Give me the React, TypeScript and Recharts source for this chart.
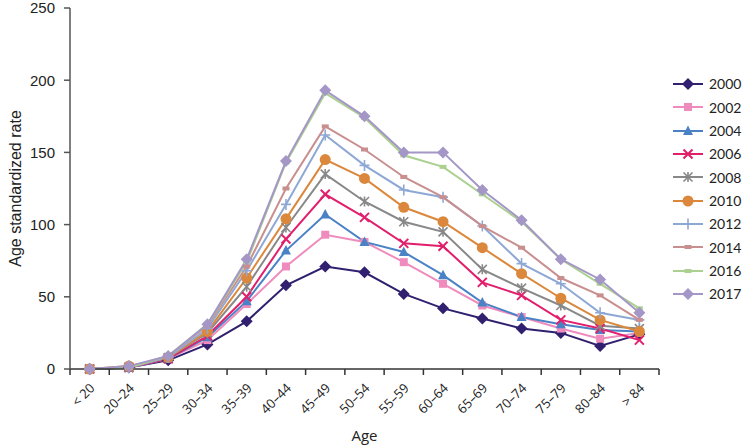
import React from "react";
import { LineChart, Line, XAxis, YAxis } from "recharts";

const ageGroups = [
  "< 20", "20–24", "25–29", "30–34", "35–39", "40–44", "45–49", "50–54",
  "55–59", "60–64", "65–69", "70–74", "75–79", "80–84", "> 84",
];

const years = ["2000", "2002", "2004", "2006", "2008", "2010", "2012", "2014", "2016", "2017"];

const rate2000 = [0, 1, 6, 17, 33, 58, 71, 67, 52, 42, 35, 28, 25, 16, 24];
const rate2002 = [0, 1, 7, 20, 45, 71, 93, 88, 74, 59, 44, 36, 28, 21, 25];
const rate2004 = [0, 1, 7, 22, 47, 82, 107, 88, 81, 65, 46, 36, 31, 27, 26];
const rate2006 = [0, 1, 7, 23, 50, 90, 121, 105, 87, 85, 60, 51, 34, 28, 20];
const rate2008 = [0, 1, 8, 25, 57, 98, 135, 116, 102, 95, 69, 56, 44, 30, 28];
const rate2010 = [0, 2, 8, 26, 63, 104, 145, 132, 112, 102, 84, 66, 49, 34, 26];
const rate2012 = [0, 1, 8, 28, 68, 114, 162, 141, 124, 119, 99, 73, 59, 39, 34];
const rate2014 = [0, 1, 9, 30, 71, 125, 168, 152, 133, 119, 99, 84, 63, 51, 34];
const rate2016 = [0, 1, 9, 31, 74, 143, 191, 174, 148, 140, 121, 102, 76, 59, 42];
const rate2017 = [0, 2, 9, 31, 76, 144, 193, 175, 150, 150, 124, 103, 76, 62, 39];

const seriesValues = [
  rate2000, rate2002, rate2004, rate2006, rate2008,
  rate2010, rate2012, rate2014, rate2016, rate2017,
];

const colors = [
  "#30206f", "#ef8cbd", "#4a82c5", "#e21f6c", "#888888",
  "#db883c", "#8ea8d5", "#c98e8e", "#abd08f", "#a496c7",
];
const markers = [
  "diamond", "square", "triangle", "cross", "asterisk",
  "circle", "plus", "dash", "dash", "diamond",
];

const yTicks = [0, 50, 100, 150, 200, 250];

const data = ageGroups.map((age, i) => {
  const row: Record<string, string | number> = { age };
  years.forEach((y, j) => {
    row[y] = seriesValues[j][i];
  });
  return row;
});

const PLOT_W = 589;
const BAND = PLOT_W / ageGroups.length;

function Marker({ kind, cx, cy, color }: { kind: string; cx: number; cy: number; color: string }) {
  switch (kind) {
    case "diamond":
      return <path d={`M${cx},${cy - 6}L${cx + 6},${cy}L${cx},${cy + 6}L${cx - 6},${cy}Z`} fill={color} />;
    case "square":
      return <rect x={cx - 4} y={cy - 4} width={8} height={8} fill={color} />;
    case "triangle":
      return <path d={`M${cx},${cy - 5.5}L${cx + 5},${cy + 4}L${cx - 5},${cy + 4}Z`} fill={color} />;
    case "cross":
      return (
        <path
          d={`M${cx - 4.5},${cy - 4.5}L${cx + 4.5},${cy + 4.5}M${cx - 4.5},${cy + 4.5}L${cx + 4.5},${cy - 4.5}`}
          stroke={color}
          strokeWidth={2}
        />
      );
    case "asterisk":
      return (
        <path
          d={`M${cx - 4.5},${cy - 4.5}L${cx + 4.5},${cy + 4.5}M${cx - 4.5},${cy + 4.5}L${cx + 4.5},${cy - 4.5}M${cx},${cy - 5}L${cx},${cy + 5}`}
          stroke={color}
          strokeWidth={1.6}
        />
      );
    case "circle":
      return <circle cx={cx} cy={cy} r={5.5} fill={color} />;
    case "plus":
      return (
        <path
          d={`M${cx - 5},${cy}L${cx + 5},${cy}M${cx},${cy - 5.5}L${cx},${cy + 5.5}`}
          stroke={color}
          strokeWidth={1.6}
        />
      );
    case "dash":
      return <rect x={cx - 3.5} y={cy - 2} width={7} height={4} fill={color} />;
    default:
      return null;
  }
}

const AgeTick = (props: any) => {
  const { x, y, payload } = props;
  const index = props.index ?? payload.index;
  const left = x - BAND / 2;
  const tx = x + 6;
  const ty = y + 20;
  return (
    <g>
      <line x1={left} x2={left} y1={y} y2={y + 6} stroke="#333" strokeWidth={1.5} />
      {index === ageGroups.length - 1 && (
        <line x1={x + BAND / 2} x2={x + BAND / 2} y1={y} y2={y + 6} stroke="#333" strokeWidth={1.5} />
      )}
      <text
        x={tx}
        y={ty}
        textAnchor="end"
        transform={`rotate(-45 ${tx} ${ty})`}
        fontSize={13}
        fontFamily="'Open Sans', sans-serif"
        fill="#222"
      >
        {payload.value}
      </text>
    </g>
  );
};

const LegendBox = () => (
  <div
    style={{
      position: "absolute",
      left: 672,
      top: 72.3,
      fontFamily: "Lato, sans-serif",
      fontSize: 14,
      color: "#222",
    }}
  >
    {years.map((y, i) => (
      <div key={y} style={{ display: "flex", alignItems: "center", height: 23.33 }}>
        <svg width={32} height={16} style={{ display: "block" }}>
          <line x1={1} x2={31} y1={8} y2={8} stroke={colors[i]} strokeWidth={2} />
          <Marker kind={markers[i]} cx={16} cy={8} color={colors[i]} />
        </svg>
        <span style={{ marginLeft: 5 }}>{y}</span>
      </div>
    ))}
  </div>
);

export default function App() {
  return (
    <div style={{ position: "absolute", left: 0, top: 0, width: 745, height: 448, background: "#fff" }}>
      <LineChart width={745} height={448} data={data} margin={{ top: 8, right: 86, bottom: 0, left: 0 }}>
        <XAxis
          dataKey="age"
          scale="band"
          height={79}
          interval={0}
          tickLine={false}
          tickSize={0}
          tickMargin={0}
          axisLine={{ stroke: "#333", strokeWidth: 1.5 }}
          tick={<AgeTick />}
          label={{
            value: "Age",
            position: "insideBottom",
            offset: 7,
            fontSize: 15,
            fontFamily: "'Open Sans', sans-serif",
            fill: "#222",
          }}
        />
        <YAxis
          width={70}
          domain={[0, 250]}
          ticks={yTicks}
          interval={0}
          tickSize={6}
          tickMargin={9}
          axisLine={{ stroke: "#555", strokeWidth: 1.5 }}
          tickLine={{ stroke: "#555", strokeWidth: 1.5 }}
          tick={{ fontSize: 15, fill: "#222", fontFamily: "'Liberation Sans', Arial, sans-serif" }}
          label={{
            value: "Age standardized rate",
            angle: -90,
            position: "center",
            dx: -20,
            fontSize: 16,
            fill: "#222",
            fontFamily: "'Liberation Sans', Arial, sans-serif",
          }}
        />
        {years.map((y, i) => (
          <Line
            key={y}
            dataKey={y}
            stroke={colors[i]}
            strokeWidth={2}
            isAnimationActive={false}
            dot={(p: any) => (
              <Marker key={`${y}-${p.index}`} kind={markers[i]} cx={p.cx} cy={p.cy} color={colors[i]} />
            )}
            activeDot={false}
          />
        ))}
      </LineChart>
      <LegendBox />
    </div>
  );
}
